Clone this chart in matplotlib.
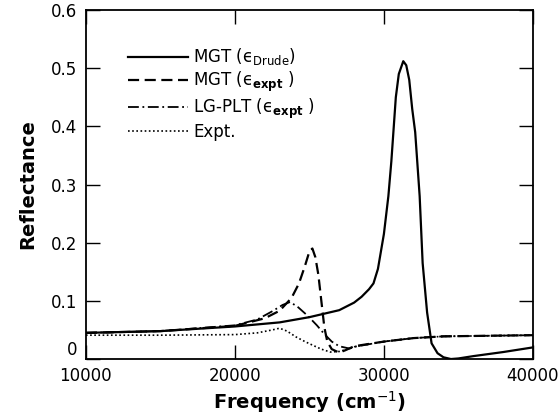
import matplotlib
matplotlib.use("Agg")
import matplotlib.pyplot as plt

# Data
f_drude = [10000, 15000, 20000, 23000, 25000, 27000, 28000, 28500, 29000, 29300, 29600,
           30000, 30300, 30500, 30800, 31000, 31300, 31500, 31700, 31900, 32100, 32400,
           32600, 32900, 33200, 33600, 34000, 34500, 35000, 36000, 38000, 40000]
r_drude = [0.045, 0.048, 0.056, 0.063, 0.072, 0.084, 0.097, 0.107, 0.120, 0.130, 0.155,
           0.215, 0.280, 0.340, 0.450, 0.490, 0.512, 0.505, 0.480, 0.430, 0.390, 0.280,
           0.165, 0.080, 0.027, 0.010, 0.003, 0.000, 0.001, 0.005, 0.012, 0.020]

f_mgt_expt = [10000, 15000, 20000, 22000, 23000, 23800, 24300, 24700, 25000, 25200, 25400,
              25600, 25800, 26000, 26200, 26500, 27000, 27400, 28000, 30000, 32000, 34000,
              37000, 40000]
r_mgt_expt = [0.045, 0.048, 0.057, 0.070, 0.083, 0.105, 0.130, 0.160, 0.185, 0.190, 0.175,
              0.145, 0.100, 0.055, 0.030, 0.017, 0.011, 0.015, 0.022, 0.030, 0.036, 0.039,
              0.040, 0.041]

f_lg = [10000, 15000, 20000, 21500, 22500, 23200, 23700, 24200, 24900, 25500, 26000,
        26500, 27000, 27700, 28000, 30000, 32000, 34000, 37000, 40000]
r_lg = [0.045, 0.048, 0.058, 0.068, 0.082, 0.093, 0.098, 0.090, 0.074, 0.058, 0.043,
        0.030, 0.022, 0.018, 0.021, 0.030, 0.036, 0.039, 0.040, 0.041]

f_exp = [10000, 15000, 20000, 21500, 22500, 23000, 23500, 24100, 24700, 25200, 25800,
         26400, 27000, 27700, 28000, 30000, 32000, 34000, 37000, 40000]
r_exp = [0.041, 0.041, 0.042, 0.045, 0.050, 0.053, 0.048, 0.038, 0.030, 0.024, 0.017,
         0.012, 0.013, 0.018, 0.021, 0.030, 0.036, 0.039, 0.040, 0.041]

xticks = [10000, 20000, 30000, 40000]
xticklabels = ["10000", "20000", "30000", "40000"]
yticks = [0, 0.1, 0.2, 0.3, 0.4, 0.5, 0.6]
yticklabels = ["0", "0.1", "0.2", "0.3", "0.4", "0.5", "0.6"]

plt.rcParams['font.family'] = ['DejaVu Sans']
plt.rcParams['mathtext.fontset'] = 'dejavusans'

fig = plt.figure(figsize=(5.58, 4.17), dpi=100)
ax = fig.add_axes([0.154, 0.139, 0.801, 0.837])

ax.plot(f_drude, r_drude, color='black', lw=1.6, ls='-', label='MGT (\u03f5$_{\\mathrm{Drude}}$)')
ax.plot(f_mgt_expt, r_mgt_expt, color='black', lw=1.6, ls=(0, (5, 2.5)), label='MGT (\u03f5$_{\\mathbf{expt}}$ )')
ax.plot(f_lg, r_lg, color='black', lw=1.3, ls=(0, (6, 2, 1, 2)), label='LG-PLT (\u03f5$_{\\mathbf{expt}}$ )')
ax.plot(f_exp, r_exp, color='black', lw=1.2, ls=(0, (1, 1.5)), label='Expt.')

ax.set_xlim(10000, 40000)
ax.set_ylim(0, 0.6)
ax.set_xticks(xticks)
ax.set_xticklabels(xticklabels)
ax.set_yticks(yticks)
ax.set_yticklabels(yticklabels)
ax.tick_params(direction='in', length=10, width=1, top=True, right=True,
               labelsize=12, pad=6)
for s in ax.spines.values():
    s.set_linewidth(1.3)

# the "0" label sits slightly above its tick in the reference, clearing "10000"
ax.get_yticklabels()[0].set_verticalalignment('bottom')

ax.set_xlabel(r'Frequency (cm$^{-1}$)', fontsize=14, fontweight='bold', labelpad=3)
ax.set_ylabel('Reflectance', fontsize=14, fontweight='bold', labelpad=10)

leg = ax.legend(loc='upper left', bbox_to_anchor=(0.08, 0.915), frameon=False,
                fontsize=12, handlelength=3.6, handletextpad=0.3, labelspacing=0.15,
                borderaxespad=0)

fig.savefig('out.png', dpi=100)
